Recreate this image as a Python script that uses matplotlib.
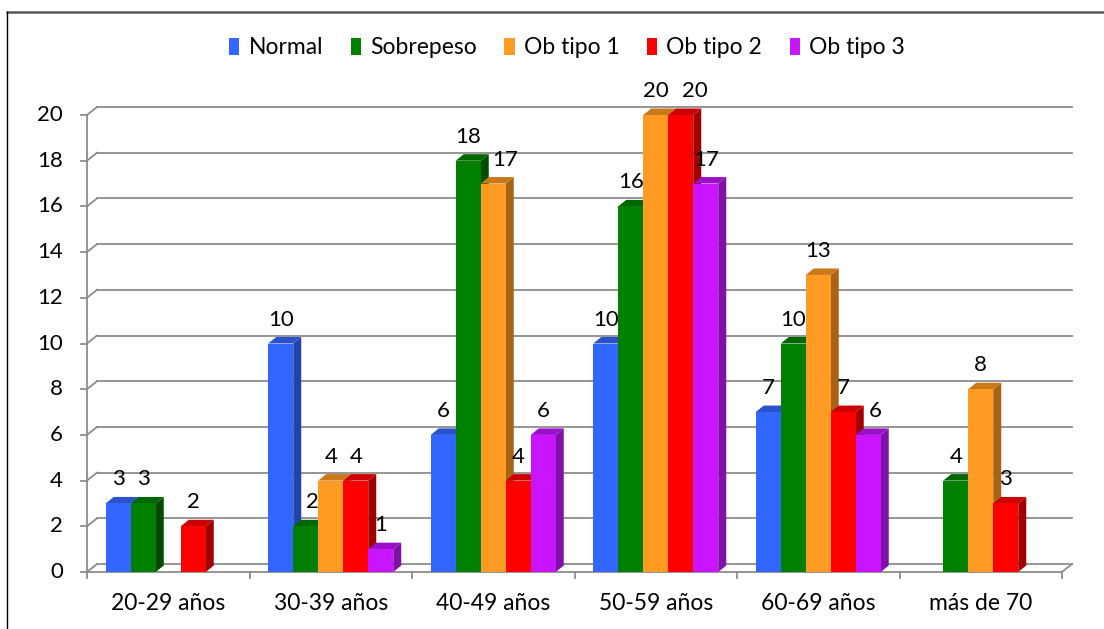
import matplotlib
matplotlib.use("Agg")
import matplotlib.pyplot as plt
from matplotlib.patches import Polygon, Patch
from matplotlib.lines import Line2D

plt.rcParams['font.family'] = ['Lato', 'DejaVu Sans']

# data
categorias = ["20-29 años", "30-39 años", "40-49 años", "50-59 años", "60-69 años", "más de 70"]
series = ["Normal", "Sobrepeso", "Ob tipo 1", "Ob tipo 2", "Ob tipo 3"]
normal = [3, 10, 6, 10, 7, 0]
sobrepeso = [3, 2, 18, 16, 10, 4]
ob_tipo1 = [0, 4, 17, 20, 13, 8]
ob_tipo2 = [2, 4, 4, 20, 7, 3]
ob_tipo3 = [0, 1, 6, 17, 6, 0]
y_ticks = [0, 2, 4, 6, 8, 10, 12, 14, 16, 18, 20]

valores = [normal, sobrepeso, ob_tipo1, ob_tipo2, ob_tipo3]

# front, top, side colours for each series
colores = [
    ("#3366FF", "#2A52CC", "#2244A8"),
    ("#008000", "#006600", "#004D00"),
    ("#FF9A22", "#C9781A", "#A86414"),
    ("#FF0000", "#CC0000", "#A00000"),
    ("#C814FF", "#9A10C8", "#8010A8"),
]

# labels nudged sideways (pixels) so they don't collide with a neighbour
nudge = {(1, 1): 7, (2, 2): 12, (3, 3): 14, (4, 4): 7}

W, H = 1104, 629
fig = plt.figure(figsize=(W / 100, H / 100), dpi=100)
ax = fig.add_axes([87 / W, 57 / H, 975 / W, 457 / H])
ax.set_xlim(0, 6)
ax.set_ylim(0, 20)
ax.axis("off")

# pixel -> data unit factors
px_x = 6 / 975
px_y = 20 / 457

wall_dx, wall_dy = 10 * px_x, 8 * px_y
bar_dx, bar_dy = 8 * px_x, 6.5 * px_y
bar_w = 25 * px_x

grid_col = "#8C8C8C"
lw_grid = 1.3
fs_txt = 16.5
fs_num = 16

# back wall gridlines + left wall diagonals
for v in y_ticks:
    ax.add_line(Line2D([wall_dx, 6 + wall_dx], [v + wall_dy] * 2, color=grid_col, lw=lw_grid, zorder=1, clip_on=False))
    ax.add_line(Line2D([0, wall_dx], [v, v + wall_dy], color=grid_col, lw=lw_grid, zorder=1, clip_on=False))
    ax.add_line(Line2D([-6 * px_x, 0], [v, v], color=grid_col, lw=lw_grid, zorder=1, clip_on=False))
    ax.text(-24 * px_x, v, str(v), ha="right", va="center", fontsize=fs_num, color="black")

# floor and axes
ax.add_line(Line2D([0, 0], [0, 20], color=grid_col, lw=lw_grid, zorder=1, clip_on=False))
ax.add_line(Line2D([0, 6], [0, 0], color=grid_col, lw=lw_grid, zorder=2, clip_on=False))
ax.add_line(Line2D([6, 6 + wall_dx], [0, wall_dy], color=grid_col, lw=lw_grid, zorder=1, clip_on=False))
for i in range(7):
    ax.add_line(Line2D([i, i], [0, -6 * px_y], color=grid_col, lw=lw_grid, zorder=1, clip_on=False))

for i, cat in enumerate(categorias):
    ax.text(i + 0.5, -31 * px_y, cat, ha="center", va="center", fontsize=fs_txt, color="black")

# 3d-looking bars, drawn left to right so neighbours overlap correctly
z = 3
for i in range(len(categorias)):
    for k, vals in enumerate(valores):
        h = vals[i]
        if h <= 0:
            continue
        x0 = i + 0.5 + (k - 2.5) * bar_w
        x1 = x0 + bar_w
        front, top, side = colores[k]
        ax.add_patch(Polygon([(x1, 0), (x1 + bar_dx, bar_dy), (x1 + bar_dx, h + bar_dy), (x1, h)],
                             closed=True, fc=side, ec="none", zorder=z, clip_on=False))
        ax.add_patch(Polygon([(x0, h), (x0 + bar_dx, h + bar_dy), (x1 + bar_dx, h + bar_dy), (x1, h)],
                             closed=True, fc=top, ec="none", zorder=z, clip_on=False))
        ax.bar(x0, h, width=bar_w, align="edge", color=front, zorder=z + 0.5, clip_on=False)
        xl = (x0 + x1) / 2 + nudge.get((i, k), 0) * px_x
        ax.text(xl, h + 24 * px_y, str(h), ha="center", va="center",
                fontsize=fs_num, color="black", zorder=50)
        z += 1

# legend
handles = [Patch(facecolor=c[0], edgecolor="none") for c in colores]
fig.legend(handles, series, loc="center", bbox_to_anchor=(567 / W, 1 - 48 / H), ncol=5,
           frameon=False, fontsize=fs_txt, handlelength=0.45, handleheight=0.7,
           handletextpad=0.4, columnspacing=1.2)

# outer frame
fig.add_artist(Line2D([7 / W, 1], [1 - 12 / H] * 2, color="#595959", lw=1.8, transform=fig.transFigure))
fig.add_artist(Line2D([7 / W, 7 / W], [0, 1 - 12 / H], color="black", lw=1.0, transform=fig.transFigure))

fig.savefig("out.png", dpi=100)
